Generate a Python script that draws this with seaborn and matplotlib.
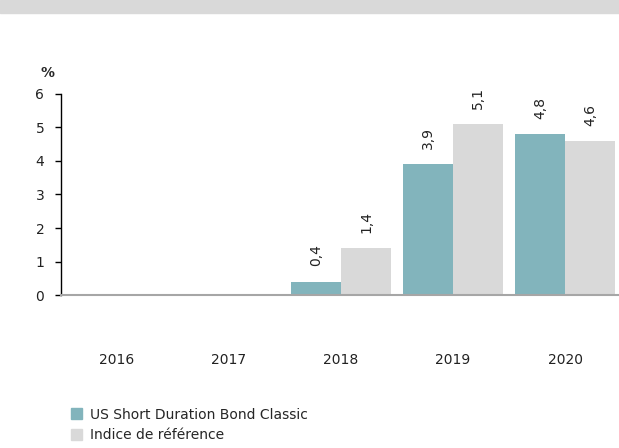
import numpy as np
import pandas as pd
import matplotlib
matplotlib.use("Agg")
import matplotlib.pyplot as plt
import seaborn as sns

# Annual performance, % (2016-2017: no data)
years = ["2016", "2017", "2018", "2019", "2020"]
fund = [np.nan, np.nan, 0.4, 3.9, 4.8]
benchmark = [np.nan, np.nan, 1.4, 5.1, 4.6]
series_names = ["US Short Duration Bond Classic", "Indice de référence"]
colors = ["#82b4bc", "#d9d9d9"]

df = pd.DataFrame({
    "year": years * 2,
    "value": fund + benchmark,
    "series": [series_names[0]] * len(years) + [series_names[1]] * len(years),
})

sns.set_theme(style="white")
plt.rcParams["font.family"] = ["DejaVu Sans"]

fig = plt.figure(figsize=(6.19, 4.48), dpi=100)
ax = fig.add_axes([0.0985, 0.3415, 0.905, 0.4487])

sns.barplot(data=df, x="year", y="value", hue="series", order=years,
            hue_order=series_names, palette=colors, width=0.89,
            saturation=1, linewidth=0, ax=ax, legend=False)

for cont in ax.containers:
    labels = [("" if np.isnan(b.get_height()) else f"{b.get_height():.1f}".replace(".", ","))
              for b in cont]
    ax.bar_label(cont, labels=labels, rotation=90, padding=11, fontsize=10, color="#222222")

ax.set_xlim(-0.5, 4.5)
ax.set_ylim(0, 6)
ax.set_yticks(range(0, 7))
ax.set_xlabel("")
ax.set_ylabel("")

for s in ["top", "right"]:
    ax.spines[s].set_visible(False)
ax.spines["left"].set_color("#000000")
ax.spines["left"].set_linewidth(1.0)
ax.spines["bottom"].set_color("#a6a6a6")
ax.spines["bottom"].set_linewidth(1.5)

ax.tick_params(axis="y", left=True, length=4, width=1, color="#000000",
               labelsize=10, labelcolor="#222222", pad=8)
ax.tick_params(axis="x", bottom=False, labelsize=10, labelcolor="#222222", pad=36)

fig.text(0.077, 0.838, "%", fontsize=10, fontweight="bold", ha="center", va="center")

# grey header band
fig.patches.append(plt.Rectangle((0, 0.971), 1, 0.029, transform=fig.transFigure,
                                 color="#d9d9d9", zorder=0))

handles = [plt.Rectangle((0, 0), 1, 1, color=c) for c in colors]
fig.legend(handles, series_names, loc="lower left", bbox_to_anchor=(0.105, 0.0),
           frameon=False, fontsize=10, handlelength=0.8, handleheight=0.8,
           handletextpad=0.6, labelspacing=0.5, borderaxespad=0)

fig.savefig("out.png", dpi=100)
